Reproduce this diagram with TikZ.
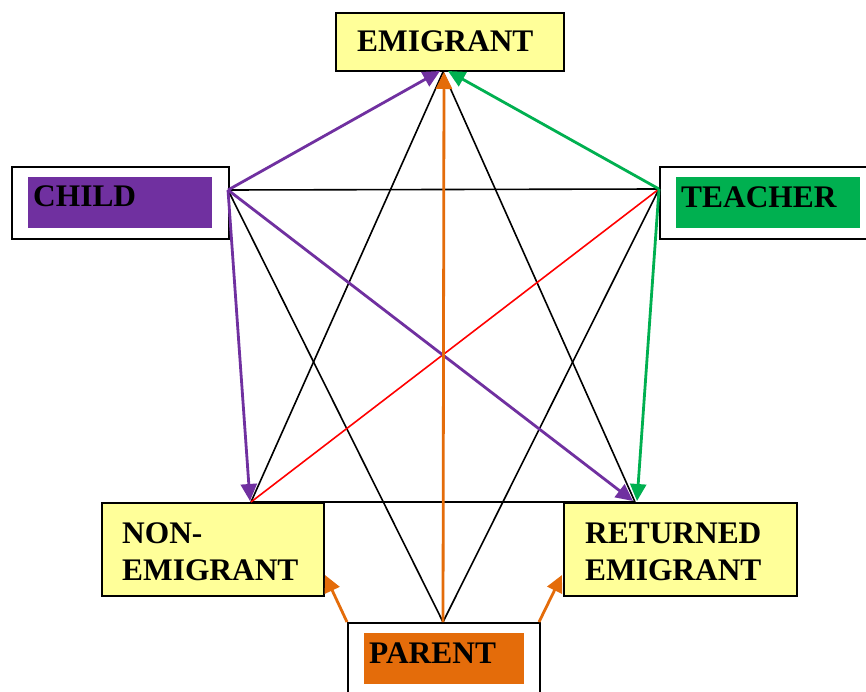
\documentclass[tikz,border=0pt]{standalone}
\usepackage{fontspec}
\setmainfont{Liberation Serif}
\usetikzlibrary{arrows.meta}
\definecolor{boxyellow}{HTML}{FFFF99}
\definecolor{kidpurple}{HTML}{7030A0}
\definecolor{teachgreen}{HTML}{00B050}
\definecolor{parorange}{HTML}{E46C0A}

\begin{document}
\begin{tikzpicture}[x=1pt,y=-1pt,
  frame/.style={draw=black, line width=1.8pt, rectangle, inner sep=0pt, anchor=north west},
  band/.style={rectangle, inner sep=0pt, anchor=north west},
  role/.style={font=\fontsize{31.4}{38}\selectfont\bfseries, anchor=base west, inner sep=0pt},
  link/.style={line width=1.6pt, black},
  redlink/.style={line width=1.6pt, red},
  tie/.style={line width=2.8pt, -{Triangle[length=17pt,width=16pt]}},
]
\clip (0,0) rectangle (866,692);
\fill[white] (0,0) rectangle (866,692);

% boxes
\node[frame, fill=boxyellow, minimum width=228pt, minimum height=58pt] (emi) at (335,12) {};
\node[frame, fill=white, minimum width=217pt, minimum height=72pt] (child) at (11,166) {};
\node[band, fill=kidpurple, minimum width=184pt, minimum height=51pt] (childband) at (28,177) {};
\node[frame, fill=white, minimum width=220pt, minimum height=72pt] (teach) at (659,166) {};
\node[band, fill=teachgreen, minimum width=184pt, minimum height=51pt] (teachband) at (676,177) {};
\node[frame, fill=boxyellow, minimum width=222pt, minimum height=93pt] (non) at (101,502) {};
\node[frame, fill=boxyellow, minimum width=233pt, minimum height=93pt] (ret) at (563,502) {};
\node[frame, fill=white, minimum width=192pt, minimum height=90pt] (par) at (347,622) {};
\node[band, fill=parorange, minimum width=160pt, minimum height=51pt] (parband) at (364,633) {};

% labels
\node[role] (emiT) at (357,52) {EMIGRANT};
\node[role] (childT) at (33,207) {CHILD};
\node[role] (teachT) at (681,208) {TEACHER};
\node[role] (nonA) at (122,543) {NON-};
\node[role] (nonB) at (122,580) {EMIGRANT};
\node[role] (retA) at (585,543) {RETURNED};
\node[role] (retB) at (585,580) {EMIGRANT};
\node[role] (parT) at (369,663) {PARENT};

% connection points
\coordinate (eP) at (443,72);
\coordinate (eL) at (440,71);
\coordinate (eM) at (444,72);
\coordinate (eR) at (448,71);
\coordinate (cP) at (228,190);
\coordinate (tP) at (659,189);
\coordinate (nP) at (251,502);
\coordinate (nL) at (250,501);
\coordinate (rP) at (635,502);
\coordinate (rL) at (633,501);
\coordinate (rR) at (637,501);
\coordinate (pP) at (443,622);
\coordinate (pL) at (347,622);
\coordinate (pR) at (539,622);
\coordinate (nC) at (325,575);
\coordinate (rC) at (562,575);

% plain links
\draw[link] (cP) -- (tP);
\draw[link] (nP) -- (rP);
\draw[link] (cP) -- (pP);
\draw[link] (tP) -- (pP);
\draw[link] (eP) -- (nP);
\draw[link] (eP) -- (rP);
\draw[redlink] (tP) -- (nP);

% directed links
\draw[tie, kidpurple] (cP) -- (eL);
\draw[tie, teachgreen] (tP) -- (eR);
\draw[tie, kidpurple] (cP) -- (nL);
\draw[tie, kidpurple] (cP) -- (rL);
\draw[tie, teachgreen] (tP) -- (rR);
\draw[tie, parorange] (pP) -- (eM);
\draw[tie, parorange] (pL) -- (nC);
\draw[tie, parorange] (pR) -- (rC);
\end{tikzpicture}
\end{document}
